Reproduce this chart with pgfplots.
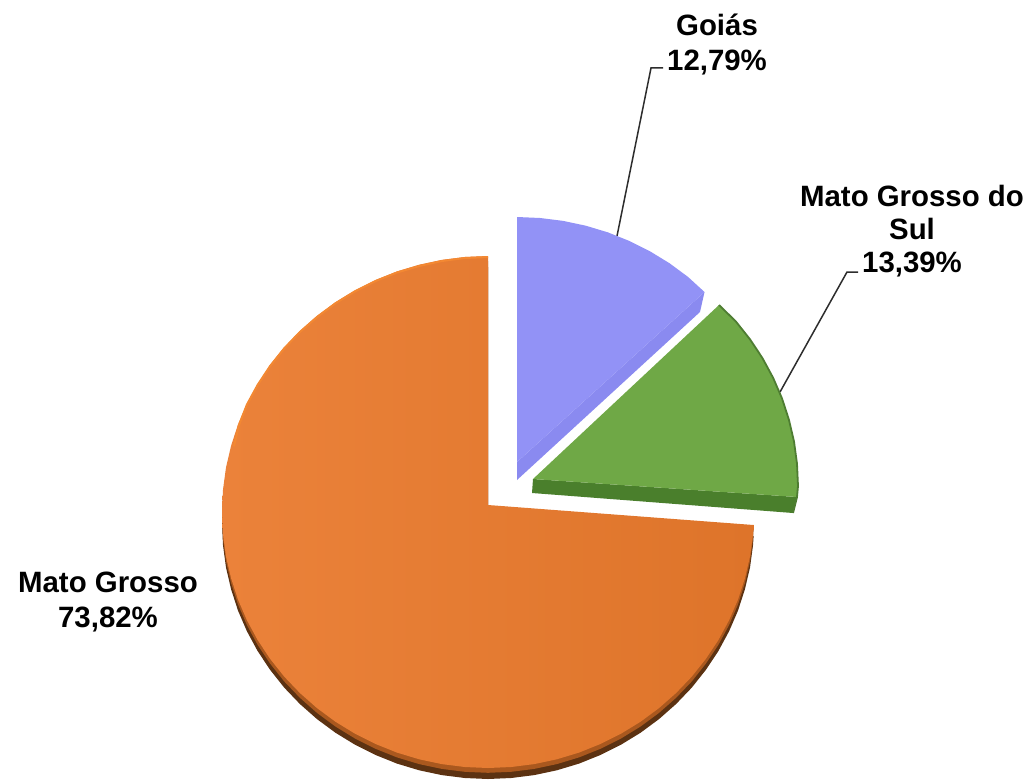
\documentclass[border=0pt]{standalone}
\usepackage{fontspec}
\setmainfont{Liberation Sans}
\usepackage{pgfplots}
\usepackage{pgfplotstable}
\pgfplotsset{compat=1.18}
\definecolor{orangeL}{RGB}{235,130,58}
\definecolor{orangeR}{RGB}{222,116,42}
\definecolor{orangeRim}{RGB}{243,136,50}
\definecolor{orangeMid}{RGB}{170,88,30}
\definecolor{orangeDark}{RGB}{92,50,18}
\definecolor{blueFace}{RGB}{146,146,246}
\definecolor{blueSide}{RGB}{138,138,240}
\definecolor{greenFace}{RGB}{111,168,70}
\definecolor{greenSide}{RGB}{74,127,44}
\definecolor{greenEdge}{RGB}{78,125,50}
\definecolor{leader}{RGB}{45,45,45}

% wedge outlines in picture pixels, y downwards
\pgfplotstableread{
x y
488.0 505.0
488.0 256.0
464.8 257.0
441.8 259.9
419.2 264.7
397.0 271.4
375.6 280.0
355.0 290.3
335.4 302.3
317.0 315.9
299.9 331.0
284.2 347.4
270.1 365.2
257.6 384.0
246.9 403.8
238.0 424.4
231.1 445.7
226.0 467.5
223.0 489.7
222.0 512.0
223.0 534.3
226.0 556.5
231.1 578.3
238.0 599.6
246.9 620.2
257.6 640.0
270.1 658.8
284.2 676.6
299.9 693.0
317.0 708.1
335.4 721.7
355.0 733.7
375.6 744.0
397.0 752.6
419.2 759.3
441.8 764.1
464.8 767.0
488.0 768.0
511.2 767.0
534.2 764.1
556.8 759.3
579.0 752.6
600.4 744.0
621.0 733.7
640.6 721.7
659.0 708.1
676.1 693.0
691.8 676.6
705.9 658.8
718.4 640.0
729.1 620.2
738.0 599.6
744.9 578.3
750.0 556.5
753.0 534.3
753.6 525.0
488.0 505.0
}\mtgrosso

\pgfplotstableread{
x y
533.0 479.0
719.0 305.0
735.8 321.4
749.9 339.2
762.4 358.0
773.1 377.8
782.0 398.4
788.9 419.7
794.0 441.5
797.0 463.7
798.0 486.0
797.0 497.0
533.0 479.0
}\mtgrossosul

\tikzset{lbl/.style={font=\fontsize{14.7}{17.5}\selectfont\bfseries,
    text=black, align=center, inner sep=0pt}}

\begin{document}
\begin{tikzpicture}
\begin{axis}[
    name=ax,
    scale only axis,
    width=516pt,
    height=390.5pt,
    xmin=0, xmax=1032,
    ymin=0, ymax=781,
    y dir=reverse,
    hide axis,
    no markers,
    clip=false,
]
% leader lines
\addplot[leader, line width=0.75pt] coordinates {(663,68) (651,68) (617,236)};
\addplot[leader, line width=0.75pt] coordinates {(858,272) (847,272) (780,392)};

% Mato Grosso: depth layers, then the face
\addplot[fill=orangeDark, draw=none, yshift=-5.5pt] table {\mtgrosso};
\addplot[fill=orangeMid, draw=none, yshift=-2.4pt] table {\mtgrosso};
\addplot[left color=orangeL, right color=orangeR, draw=none] table {\mtgrosso};
\addplot[orangeRim, line width=1pt] coordinates {
    (488.0,257) (464.8,258) (441.8,261) (419.2,266) (397.0,272.5) (375.6,281)
    (355.0,291.3) (335.4,303.3) (317.0,317) (299.9,332) (284.2,348.4) (270.1,366)
    (257.6,385) (246.9,404.6) (239,425) (234,446.4)};

% Goias
\addplot[fill=blueSide, draw=none] coordinates {(704.5,292) (700,312) (517,480) (517,462)};
\addplot[fill=blueFace, draw=none] coordinates {
    (517,462) (517,217) (540.2,218) (563.2,220.9) (585.8,225.7) (608,232.4)
    (629.4,241) (650,251.3) (669.6,263.3) (688,276.9) (704.5,292) (517,462)};

% Mato Grosso do Sul
\addplot[fill=greenSide, draw=none] coordinates {(533,479) (532,493) (793,513) (797,497)};
\addplot[fill=greenFace, draw=none] table {\mtgrossosul};
\addplot[greenEdge, line width=0.9pt] coordinates {
    (719,305) (735.8,321.4) (749.9,339.2) (762.4,358) (773.1,377.8) (782,398.4)
    (788.9,419.7) (794,441.5) (797,463.7) (798,486) (797,497) (793,513)};

% labels
\node[lbl] at (axis cs:717,44) {Goiás\\12,79\%};
\node[lbl, font=\fontsize{14.7}{16.5}\selectfont\bfseries] at (axis cs:912,231) {Mato Grosso do\\Sul\\13,39\%};
\node[lbl] at (axis cs:108,602) {Mato Grosso\\73,82\%};
\end{axis}
\pgfresetboundingbox
\path (ax.south west) rectangle (ax.north east);
\end{tikzpicture}
\end{document}
